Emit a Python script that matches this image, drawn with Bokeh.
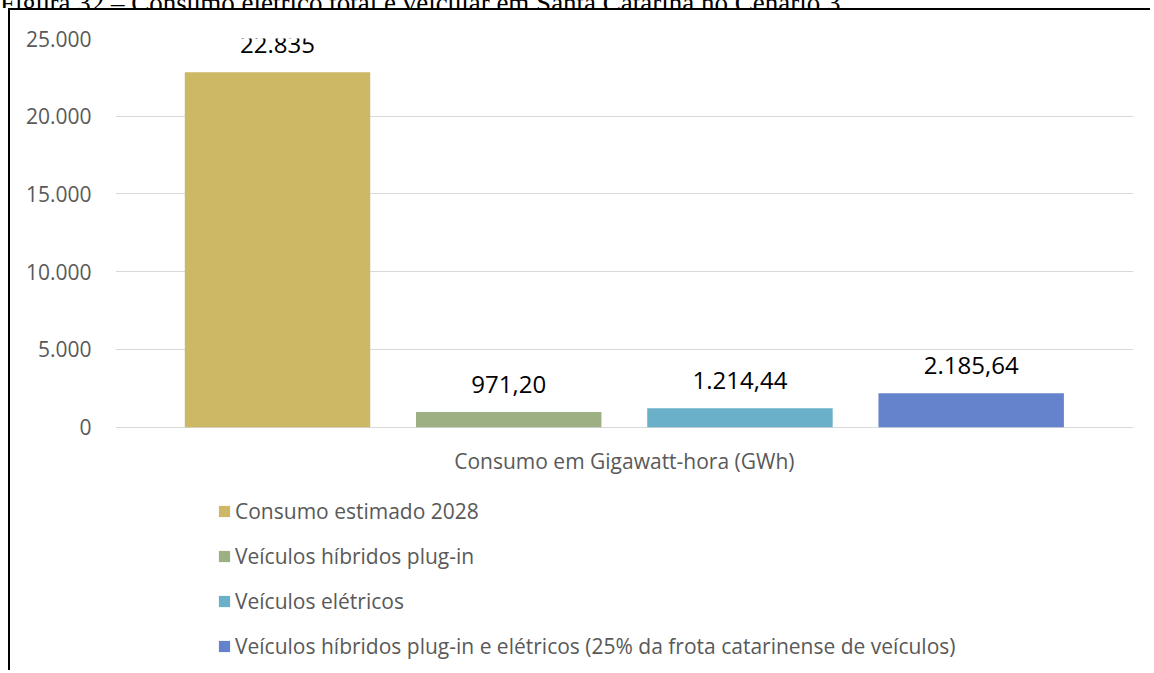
from bokeh.plotting import figure
from bokeh.models import Range1d, FixedTicker, Legend, LegendItem, Label, Div
from bokeh.layouts import column
from bokeh.core.properties import value
from bokeh.embed import file_html
from bokeh.resources import INLINE

# ---- data ----
caption = "Figura 32 – Consumo elétrico total e veicular em Santa Catarina no Cenário 3."
series = [
    "Consumo estimado 2028",
    "Veículos híbridos plug-in",
    "Veículos elétricos",
    "Veículos híbridos plug-in e elétricos (25% da frota catarinense de veículos)",
]
values = [22835, 971.20, 1214.44, 2185.64]
value_labels = ["22.835", "971,20", "1.214,44", "2.185,64"]
colors = ["#CDB866", "#9DB084", "#6AB0C9", "#6583CD"]
y_ticks = [0, 5000, 10000, 15000, 20000, 25000]
y_tick_labels = ["0", "5.000", "10.000", "15.000", "20.000", "25.000"]
x_title = "Consumo em Gigawatt-hora (GWh)"

FONT = "Open Sans"
GREY = "#595959"

xs = list(range(len(series)))

p = figure(
    width=1142, height=662,
    x_range=Range1d(-0.7007, 3.702),
    y_range=Range1d(-15777, 25000),
    min_border_left=105, min_border_right=19,
    min_border_top=28, min_border_bottom=0,
    output_backend="svg", toolbar_location=None,
    margin=(0, 0, 0, 8),
    styles={"border-left": "2px solid #000", "border-top": "2px solid #000"},
)
p.outline_line_color = None
p.background_fill_color = "white"
p.border_fill_color = "white"

p.xaxis.visible = False
p.xgrid.grid_line_color = None
p.ygrid.ticker = FixedTicker(ticks=y_ticks)
p.ygrid.grid_line_color = "#d9d9d9"
p.ygrid.grid_line_width = 1

ax = p.yaxis[0]
ax.ticker = FixedTicker(ticks=y_ticks)
ax.major_label_overrides = {t: l for t, l in zip(y_ticks, y_tick_labels)}
ax.axis_line_color = None
ax.major_tick_line_color = None
ax.minor_tick_line_color = None
ax.major_label_standoff = 18
ax.major_label_text_font = FONT
ax.major_label_text_font_size = "21px"
ax.major_label_text_color = GREY

items = []
for i, (s, v, c) in enumerate(zip(series, values, colors)):
    r = p.vbar(x=[xs[i]], top=[v], bottom=0, width=0.802, fill_color=c, line_color=None)
    items.append(LegendItem(label=s, renderers=[r]))

p.text(x=xs, y=values, text=value_labels, text_align="center", text_baseline="alphabetic",
       y_offset=-28, text_font=value(FONT), text_font_size="24px", text_color="#000000")

p.add_layout(Label(x=1.5, y=-2161, text=x_title, text_align="center", text_baseline="alphabetic",
                   text_font=FONT, text_font_size="21px", text_color=GREY))

legend = Legend(items=items, location=(102, 12), orientation="vertical",
                glyph_width=14, glyph_height=14, label_standoff=4, spacing=17,
                padding=0, margin=0, border_line_color=None, background_fill_alpha=0,
                label_text_font=FONT, label_text_font_size="21px", label_text_color=GREY,
                label_height=14)
p.add_layout(legend)

cap = Div(
    text=('<div style="margin-top:-19px; font-family:\'Liberation Serif\', \'Times New Roman\', serif; '
          'font-size:27px; line-height:27px; white-space:nowrap; color:#000;">' + caption + '</div>'),
    width=1150, height=8, margin=0,
    styles={"overflow": "hidden"},
)

layout = column(cap, p, spacing=0)

open("out.html", "w").write(file_html(layout, INLINE))
